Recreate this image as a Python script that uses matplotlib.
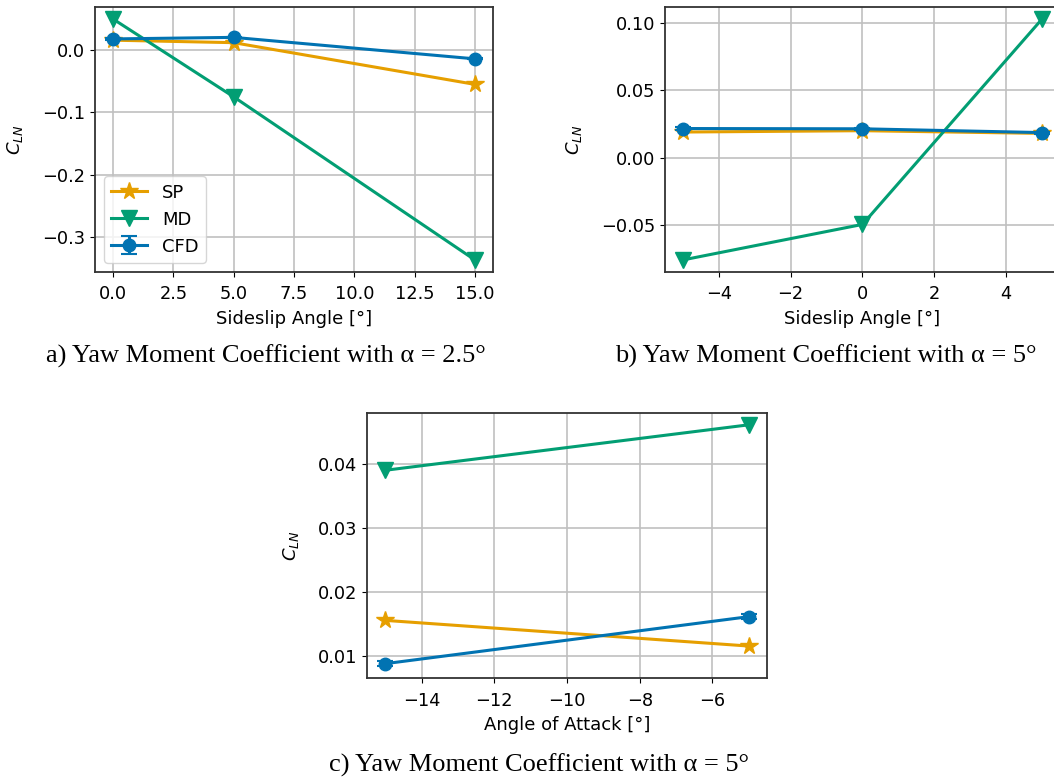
import numpy as np
import matplotlib.pyplot as plt

# colours (colorblind palette)
c_sp = "#E69F00"
c_md = "#029E73"
c_cfd = "#0173B2"

# a) sideslip sweep, alpha = 2.5
beta_a = [0, 5, 15]
sp_a = [0.016, 0.012, -0.055]
md_a = [0.050, -0.075, -0.337]
cfd_a = [0.018, 0.0205, -0.014]
cfd_err_a = [0.001, 0.001, 0.001]

# b) sideslip sweep, alpha = 5
beta_b = [-5, 0, 5]
sp_b = [0.019, 0.020, 0.018]
md_b = [-0.0757, -0.0494, 0.1027]
cfd_b = [0.0216, 0.0214, 0.0186]
cfd_err_b = [0.0008, 0.0008, 0.0008]

# c) angle of attack sweep
aoa_c = [-15, -5]
sp_c = [0.01557, 0.01156]
md_c = [0.0390, 0.0461]
cfd_c = [0.00881, 0.01615]
cfd_err_c = [0.0004, 0.0004]

captions = ["a) Yaw Moment Coefficient with \u03b1 = 2.5\u00b0",
            "b) Yaw Moment Coefficient with \u03b1 = 5\u00b0",
            "c) Yaw Moment Coefficient with \u03b1 = 5\u00b0"]

plt.rcParams["font.family"] = ["DejaVu Sans"]
plt.rcParams["font.size"] = 13

fig = plt.figure(figsize=(10.54, 7.82), dpi=100)
ax_a = fig.add_axes([0.0901, 0.6522, 0.3776, 0.3389])
ax_b = fig.add_axes([0.6309, 0.6522, 0.3748, 0.3389])
ax_c = fig.add_axes([0.3482, 0.1326, 0.3795, 0.3396])


def draw(ax, x, sp, md, cfd, err, xlabel):
    ax.plot(x, sp, color=c_sp, marker="*", ms=13, lw=2.2, label="SP", zorder=3)
    ax.plot(x, md, color=c_md, marker="v", ms=12, lw=2.2, label="MD", zorder=3)
    ax.errorbar(x, cfd, yerr=err, color=c_cfd, marker="o", ms=9, lw=2.2,
                capsize=6, capthick=1.5, label="CFD", zorder=4)
    ax.grid(True, color="#c0c0c0", lw=1.2)
    ax.set_axisbelow(True)
    for s in ax.spines.values():
        s.set_color("#333333")
        s.set_linewidth(1.3)
    ax.set_xlabel(xlabel, labelpad=5)
    ax.set_ylabel("$C_{LN}$", labelpad=12)
    ax.tick_params(labelsize=12.8)
    ax.tick_params(axis="x", pad=6)


draw(ax_a, beta_a, sp_a, md_a, cfd_a, cfd_err_a, "Sideslip Angle [\u00b0]")
draw(ax_b, beta_b, sp_b, md_b, cfd_b, cfd_err_b, "Sideslip Angle [\u00b0]")
draw(ax_c, aoa_c, sp_c, md_c, cfd_c, cfd_err_c, "Angle of Attack [\u00b0]")

ax_a.set_yticks([0.0, -0.1, -0.2, -0.3])
ax_a.set_xticks(np.arange(0, 15.1, 2.5))
ax_b.set_yticks([-0.05, 0.0, 0.05, 0.10])
ax_c.set_yticks([0.01, 0.02, 0.03, 0.04])
ax_b.set_xticks([-4, -2, 0, 2, 4])

ax_a.legend(loc="lower left", fontsize=13)

serif = ["Liberation Serif", "DejaVu Serif"]
fig.text(0.2524, 0.545, captions[0], ha="center", va="center", fontsize=19, family=serif)
fig.text(0.7837, 0.545, captions[1], ha="center", va="center", fontsize=19, family=serif)
fig.text(0.511, 0.0217, captions[2], ha="center", va="center", fontsize=19, family=serif)

fig.savefig("out.png", dpi=100)
